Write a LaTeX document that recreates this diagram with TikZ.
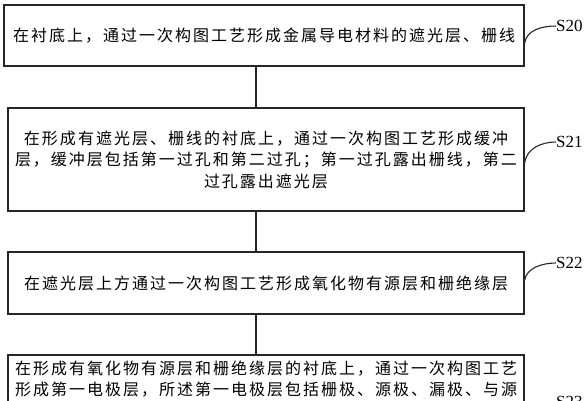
\documentclass[tikz,border=0pt]{standalone}
\usepackage{fontspec}
\setmainfont{Liberation Serif}
\newfontfamily\cjk{Noto Sans CJK SC}[LetterSpace=12.5]
\begin{document}
\begin{tikzpicture}[x=1pt,y=-1pt,
  box/.style={draw=black!85,line width=1.3pt,inner sep=0pt,align=center,
    font=\cjk\fontsize{16}{21.5}\selectfont,text=black},
  txt/.style={inner sep=0pt,align=center,font=\cjk\fontsize{16}{21}\selectfont,text=black},
  conn/.style={draw=black!85,line width=1.1pt},
  lbl/.style={font=\fontsize{17}{17}\selectfont,inner sep=0pt,anchor=west,text=black}]
\useasboundingbox (0,0) rectangle (588,400);
\clip (0,0) rectangle (588,400);
\coordinate (cx) at (256,0);

\node[box,minimum width=520pt,minimum height=61pt] (b1) at (264,35.5)
  {在衬底上，通过一次构图工艺形成金属导电材料的遮光层、栅线};
\node[box,minimum width=516pt,minimum height=103pt] (b2) at (266,159.5)
  {在形成有遮光层、栅线的衬底上，通过一次构图工艺形成缓冲\\
   层，缓冲层包括第一过孔和第二过孔；第一过孔露出栅线，第二\\
   过孔露出遮光层};
\node[box,minimum width=516pt,minimum height=62pt] (b3) at (266,283)
  {在遮光层上方通过一次构图工艺形成氧化物有源层和栅绝缘层};
\node[box,minimum width=516pt,minimum height=91pt] (b4) at (266,400.5) {};
\node[txt,anchor=north] (b4t) at (266,361)
  {在形成有氧化物有源层和栅绝缘层的衬底上，通过一次构图工艺\\
   形成第一电极层，所述第一电极层包括栅极、源极、漏极、与源};

\draw[conn] (b1.south -| cx) -- (b2.north -| cx);
\draw[conn] (b2.south -| cx) -- (b3.north -| cx);
\draw[conn] (b3.south -| cx) -- (b4.north -| cx);

\node[lbl] (l0) at (556,26) {S20};
\node[lbl] (l1) at (556,142) {S21};
\node[lbl] (l2) at (556,263) {S22};
\node[lbl] (l3) at (556,402) {S23};

\draw[conn] ([yshift=-7.5pt]b1.east) .. controls +(2,-13) and +(-14,0) .. (l0.west);
\draw[conn] ([yshift=-3.5pt]b2.east) .. controls +(2,-15) and +(-14,0) .. (l1.west);
\draw[conn] ([yshift=3pt]b3.east) .. controls +(2,-12) and +(-14,0) .. (l2.west);
\draw[conn] ([yshift=-19.5pt]b4.east) .. controls +(2,-15) and +(-14,0) .. (l3.west);
\end{tikzpicture}
\end{document}
